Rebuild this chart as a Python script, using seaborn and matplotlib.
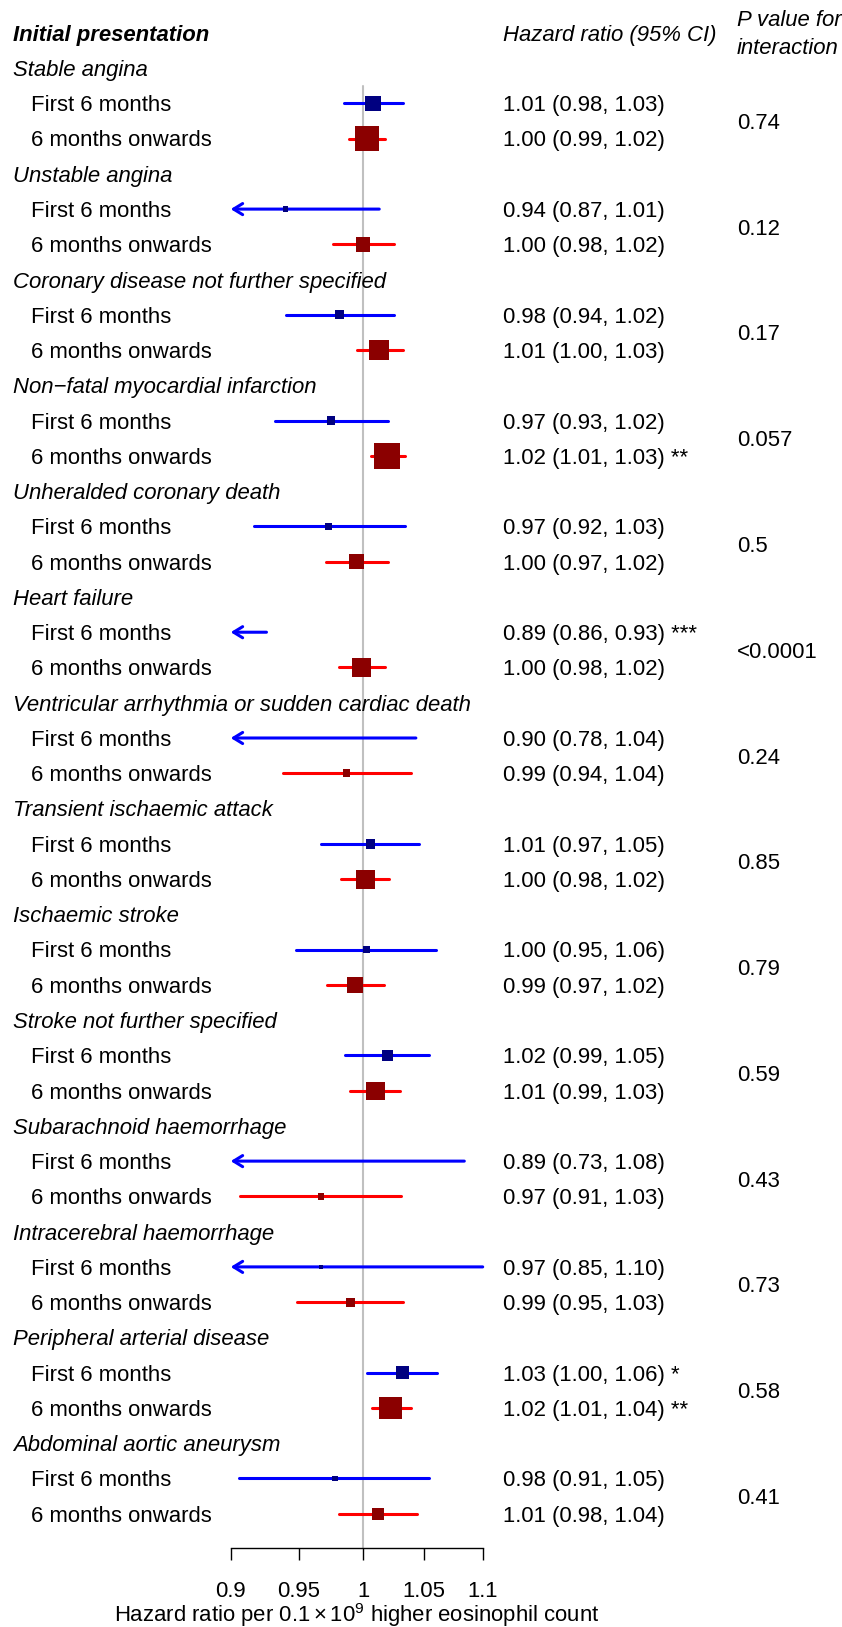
import numpy as np
import pandas as pd
import matplotlib
matplotlib.use("Agg")
import matplotlib.pyplot as plt
import matplotlib.transforms as mtransforms
import seaborn as sns

# ---------------- data ----------------
groups = [
    "Stable angina", "Unstable angina", "Coronary disease not further specified",
    "Non\u2212fatal myocardial infarction", "Unheralded coronary death", "Heart failure",
    "Ventricular arrhythmia or sudden cardiac death", "Transient ischaemic attack",
    "Ischaemic stroke", "Stroke not further specified", "Subarachnoid haemorrhage",
    "Intracerebral haemorrhage", "Peripheral arterial disease", "Abdominal aortic aneurysm",
]
periods = ["First 6 months", "6 months onwards"]

est_first = [1.008, 0.940, 0.9815, 0.975, 0.973, 0.89, 0.898, 1.006, 1.003, 1.020, 0.89, 0.967, 1.032, 0.978]
lo_first = [0.985, 0.87, 0.9405, 0.932, 0.917, 0.86, 0.78, 0.967, 0.948, 0.986, 0.73, 0.85, 1.003, 0.906]
hi_first = [1.032, 1.013, 1.025, 1.020, 1.034, 0.926, 1.043, 1.046, 1.060, 1.054, 1.084, 1.100, 1.061, 1.054]

est_later = [1.003, 1.000, 1.013, 1.019, 0.995, 0.999, 0.987, 1.002, 0.994, 1.010, 0.967, 0.990, 1.022, 1.012]
lo_later = [0.989, 0.976, 0.995, 1.006, 0.971, 0.981, 0.938, 0.983, 0.972, 0.990, 0.907, 0.949, 1.007, 0.981]
hi_later = [1.018, 1.025, 1.032, 1.034, 1.020, 1.018, 1.039, 1.021, 1.017, 1.030, 1.031, 1.032, 1.039, 1.044]

hr_text_first = [
    "1.01 (0.98, 1.03)", "0.94 (0.87, 1.01)", "0.98 (0.94, 1.02)", "0.97 (0.93, 1.02)",
    "0.97 (0.92, 1.03)", "0.89 (0.86, 0.93) ***", "0.90 (0.78, 1.04)", "1.01 (0.97, 1.05)",
    "1.00 (0.95, 1.06)", "1.02 (0.99, 1.05)", "0.89 (0.73, 1.08)", "0.97 (0.85, 1.10)",
    "1.03 (1.00, 1.06) *", "0.98 (0.91, 1.05)",
]
hr_text_later = [
    "1.00 (0.99, 1.02)", "1.00 (0.98, 1.02)", "1.01 (1.00, 1.03)", "1.02 (1.01, 1.03) **",
    "1.00 (0.97, 1.02)", "1.00 (0.98, 1.02)", "0.99 (0.94, 1.04)", "1.00 (0.98, 1.02)",
    "0.99 (0.97, 1.02)", "1.01 (0.99, 1.03)", "0.97 (0.91, 1.03)", "0.99 (0.95, 1.03)",
    "1.02 (1.01, 1.04) **", "1.01 (0.98, 1.04)",
]
p_interaction = ["0.74", "0.12", "0.17", "0.057", "0.5", "<0.0001", "0.24", "0.85",
                 "0.79", "0.59", "0.43", "0.73", "0.58", "0.41"]

xticks = [0.9, 0.95, 1, 1.05, 1.1]
xtick_labels = ["0.9", "0.95", "1", "1.05", "1.1"]

title_left = "Initial presentation"
title_hr = "Hazard ratio (95% CI)"
title_p = ["P value for", "interaction"]
xlabel = r"Hazard ratio per $0.1\times10^9$ higher eosinophil count"

# ---------------- style ----------------
sns.set_theme(style="white")
plt.rcParams["font.family"] = ["Liberation Sans", "DejaVu Sans"]
plt.rcParams["mathtext.fontset"] = "custom"
plt.rcParams["mathtext.rm"] = "Liberation Sans"
plt.rcParams["mathtext.it"] = "Liberation Sans:italic"
plt.rcParams["mathtext.bf"] = "Liberation Sans:bold"

FS = 15.9
W, H, DPI = 842, 1627, 100
row_h, row0 = 35.26, 32.8
x0px, x1px, axis_px = 230.7, 482.7, 1548.3
cap_off = 0.716 * FS * DPI / 72 / 2 / row_h  # rows from cap-centre to baseline

col_first = {"line": "#0000FF", "box": "#000080"}
col_later = {"line": "#FF0000", "box": "#8B0000"}

# ---------------- table ----------------
recs = []
for g in range(len(groups)):
    recs.append(dict(group=groups[g], period=periods[0], est=est_first[g], lo=lo_first[g],
                     hi=hi_first[g], row=3 * g + 2, text=hr_text_first[g]))
    recs.append(dict(group=groups[g], period=periods[1], est=est_later[g], lo=lo_later[g],
                     hi=hi_later[g], row=3 * g + 3, text=hr_text_later[g]))
df = pd.DataFrame(recs)

fig = plt.figure(figsize=(W / DPI, H / DPI), dpi=DPI)
ax = fig.add_axes([x0px / W, (H - axis_px) / H, (x1px - x0px) / W, axis_px / H])
ax.set_xscale("log")
xmin, xmax = xticks[0], xticks[-1]
ax.set_xlim(xmin, xmax)
ax.set_ylim((axis_px - row0) / row_h, -row0 / row_h)
ax.patch.set_alpha(0)

# reference line at 1
ax.plot([1, 1], [1.5, (axis_px - row0) / row_h], color="#C0C0C0", lw=1.5, zorder=1,
        clip_on=False)

# CI lines and arrows
for _, r in df.iterrows():
    c = col_first if r.period == periods[0] else col_later
    lo_c, hi_c = max(r.lo, xmin), min(r.hi, xmax)
    if r.lo < xmin:
        ax.annotate("", xy=(xmin, r.row), xytext=(hi_c, r.row),
                    arrowprops=dict(arrowstyle="->,head_length=0.65,head_width=0.4",
                                    color=c["line"], lw=2.2, shrinkA=0, shrinkB=0,
                                    mutation_scale=10, capstyle="round"),
                    zorder=2, annotation_clip=False)
    else:
        ax.hlines(r.row, lo_c, hi_c, colors=c["line"], lw=2.2, capstyle="round", zorder=2)

# boxes (size inversely proportional to CI width)
pts = df[(df.est >= xmin) & (df.est <= xmax)].copy()
side_px = 0.68 / np.log(pts.hi / pts.lo) + 1.0
pts["s"] = (side_px * 72 / DPI) ** 2
sns.scatterplot(data=pts, x="est", y="row", hue="period", marker="s",
                palette={periods[0]: col_first["box"], periods[1]: col_later["box"]},
                s=pts["s"].values, linewidth=0, legend=False, ax=ax, zorder=3)

# axes cosmetics
for sp in ["left", "right", "top"]:
    ax.spines[sp].set_visible(False)
ax.spines["bottom"].set_color("black")
ax.spines["bottom"].set_linewidth(1.0)
ax.set_xticks(xticks)
ax.set_xticklabels(xtick_labels)
ax.xaxis.set_minor_locator(matplotlib.ticker.NullLocator())
ax.tick_params(axis="x", bottom=True, length=8.9, width=1.0, color="black",
               direction="out", pad=14.9, labelsize=FS, labelcolor="black")
ax.set_yticks([])
ax.set_ylabel("")
ax.set_xlabel(xlabel, fontsize=FS, color="black")
ax.xaxis.label.set_va("baseline")
ax.xaxis.set_label_coords(0.5, (axis_px - 1622) / axis_px)
ax.grid(False)

# text columns
tr = mtransforms.blended_transform_factory(fig.transFigure, ax.transData)
def txt(xpx, row, s, **kw):
    ax.text(xpx / W, row + cap_off, s, transform=tr, va="baseline", ha="left",
            fontsize=FS, color="black", clip_on=False, **kw)

txt(12.7, 0, title_left, fontweight="bold", style="italic")
txt(502.7, 0, title_hr, style="italic")
txt(737.0, -0.41, title_p[0], style="italic")
txt(737.0, 0.39, title_p[1], style="italic")
for g in range(len(groups)):
    txt(12.7, 3 * g + 1, groups[g], style="italic")
for _, r in df.iterrows():
    txt(31.0, r.row, r.period)
    txt(502.7, r.row, r.text)
for g in range(len(groups)):
    txt(737.0, 3 * g + 2.5, p_interaction[g])

fig.savefig("out.png", dpi=DPI)
